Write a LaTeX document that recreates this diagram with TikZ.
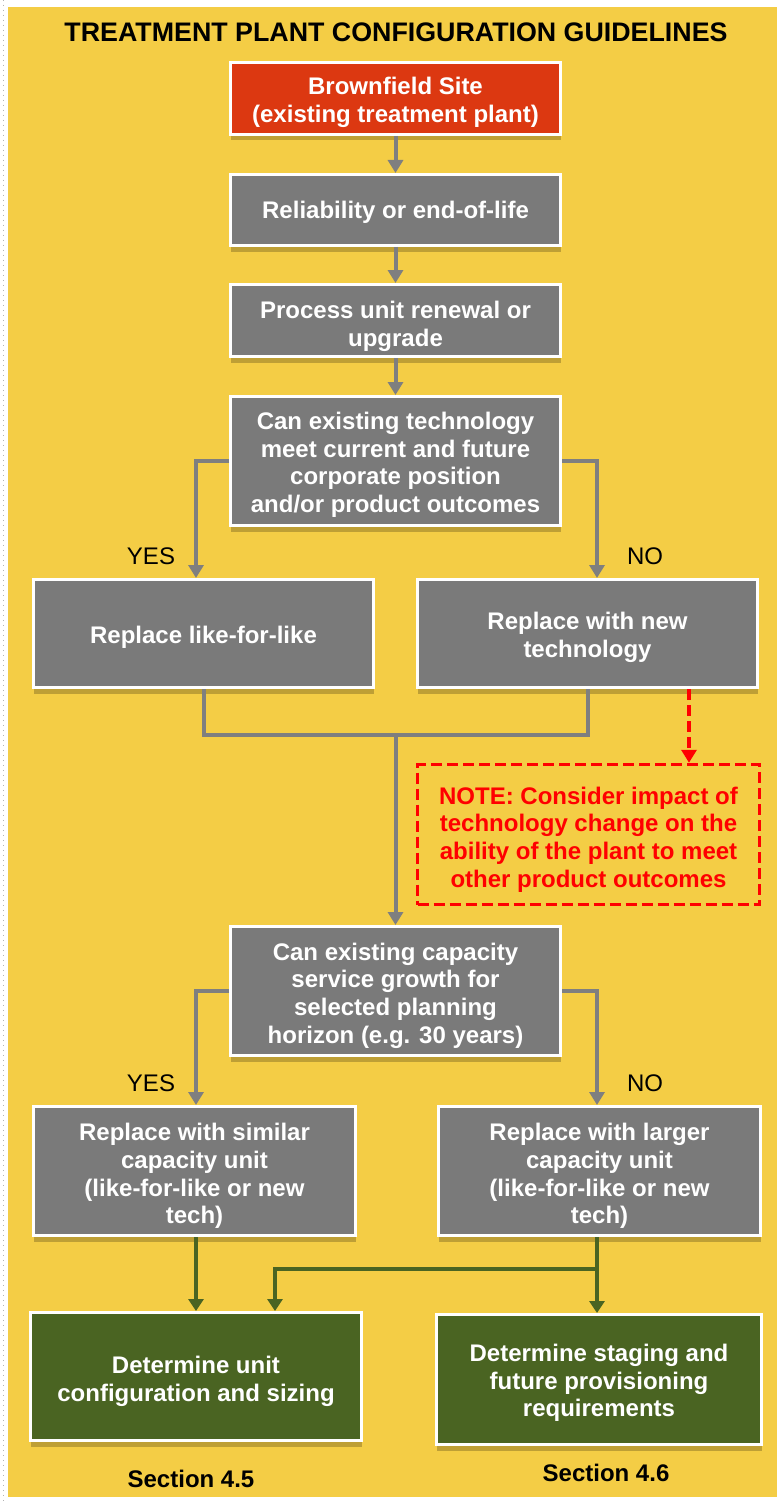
\documentclass[tikz,border=0pt]{standalone}
\usepackage{fontspec}
\setmainfont{Liberation Sans}
\usetikzlibrary{arrows.meta,shadows}

\definecolor{bgyellow}{HTML}{F4CD45}
\definecolor{boxgray}{HTML}{7A7A7A}
\definecolor{boxred}{HTML}{DC3811}
\definecolor{boxgreen}{HTML}{4A6422}
\definecolor{linegray}{HTML}{7F7F7F}
\definecolor{notered}{HTML}{FF0000}

% centred lines of box text; the optional rule height lowers the block a little
\newcommand{\boxtext}[2][12pt]{\begin{tabular}{@{}c@{}}\rule{0pt}{#1}#2\end{tabular}}

\begin{document}
\begin{tikzpicture}[x=0.5pt,y=-0.5pt,
  box/.style={draw=white, line width=1.5pt, text=white,
    inner sep=0pt, font=\fontsize{12}{13.85}\selectfont\bfseries,
    drop shadow={shadow xshift=0pt, shadow yshift=-3pt, opacity=0.22, fill=black}},
  graybox/.style={box, fill=boxgray},
  redbox/.style={box, fill=boxred},
  greenbox/.style={box, fill=boxgreen},
  notebox/.style={draw=notered, line width=1.75pt, dash pattern=on 5.5pt off 2.5pt,
    text=notered, inner sep=0pt,
    font=\fontsize{12}{13.85}\selectfont\bfseries},
  lbl/.style={font=\fontsize{12}{14}\selectfont, anchor=base, inner sep=0pt},
  seclbl/.style={font=\fontsize{12}{14}\selectfont\bfseries, anchor=base, inner sep=0pt},
  gline/.style={draw=linegray, line width=2pt},
  garrow/.style={gline, -{Triangle[width=7.5pt,length=6.5pt]}},
  grarrow/.style={draw=boxgreen, line width=1.8pt, -{Triangle[width=7.5pt,length=6pt]}},
  rarrow/.style={draw=notered, line width=1.75pt, dash pattern=on 5.5pt off 2.5pt,
    -{Triangle[width=7.5pt,length=6.5pt]}}
]
\useasboundingbox (0,0) rectangle (777,1503);

% page background and frame
\fill[white] (0,0) rectangle (777,1503);
\fill[bgyellow] (8,7) rectangle (777,1497);
\draw[black!30, line width=0.5pt, dotted] (3,0) -- (3,1503);

% title
\node[font=\fontsize{13.4}{15}\selectfont\bfseries, anchor=base, inner sep=0pt] (title)
  at (396,42) {TREATMENT PLANT CONFIGURATION GUIDELINES};

% main column
\node[redbox, minimum width=165pt, minimum height=36pt] (b1) at (395.5,98.5)
  {\boxtext[14.5pt]{Brownfield Site\\(existing treatment plant)}};
\node[graybox, minimum width=165pt, minimum height=35.5pt] (b2) at (395.5,210)
  {\boxtext[12.6pt]{Reliability or end-of-life}};
\node[graybox, minimum width=165pt, minimum height=36pt] (b3) at (395.5,320.5)
  {\boxtext[16pt]{Process unit renewal or\\upgrade}};
\node[graybox, minimum width=165pt, minimum height=64.5pt] (b4) at (395.5,461)
  {\boxtext[14.3pt]{Can existing technology\\meet current and future\\corporate position\\and/or product outcomes}};

\node[graybox, minimum width=170pt, minimum height=54pt] (l1) at (203.5,633.5)
  {\boxtext[13.8pt]{Replace like-for-like}};
\node[graybox, minimum width=170pt, minimum height=54pt] (r1) at (587.5,633.5)
  {\boxtext[13.8pt]{Replace with new\\technology}};

\node[notebox, minimum width=171pt, minimum height=70pt] (note) at (588.5,834.5)
  {\boxtext[15.3pt]{NOTE: Consider impact of\\technology change on the\\ability of the plant to meet\\other product outcomes}};

\node[graybox, minimum width=165pt, minimum height=64.5pt] (b5) at (395.5,991)
  {\boxtext[14.8pt]{Can existing capacity\\service growth for\\selected planning\\horizon (e.g. 30 years)}};

\node[graybox, minimum width=161pt, minimum height=64.5pt] (l2) at (194.5,1171)
  {\boxtext[15.5pt]{Replace with similar\\capacity unit\\(like-for-like or new\\tech)}};
\node[graybox, minimum width=161pt, minimum height=64.5pt] (r2) at (599.5,1171)
  {\boxtext[15.5pt]{Replace with larger\\capacity unit\\(like-for-like or new\\tech)}};

\node[greenbox, minimum width=165.5pt, minimum height=64pt] (g1) at (196,1376.5)
  {\boxtext[14.8pt]{Determine unit\\configuration and sizing}};
\node[greenbox, minimum width=162.5pt, minimum height=65pt] (g2) at (599,1379.5)
  {\boxtext[13.8pt]{Determine staging and\\future provisioning\\requirements}};

% branch labels
\node[lbl] (yes1) at (151,564.5) {YES};
\node[lbl] (no1) at (645,564.5) {NO};
\node[lbl] (yes2) at (151,1091.5) {YES};
\node[lbl] (no2) at (645,1091.5) {NO};

% section references
\node[seclbl] (sec1) at (191,1487) {Section 4.5};
\node[seclbl] (sec2) at (606,1481) {Section 4.6};

% connectors
\draw[garrow] (b1) -- (b2);
\draw[garrow] (b2) -- (b3);
\draw[garrow] (b3) -- (b4);
\draw[garrow] (b4.west) -| ([xshift=-3.75pt]l1.north);
\draw[garrow] (b4.east) -| ([xshift=4.75pt]r1.north);

\coordinate (merge) at (395.5,735);
\draw[gline] (l1.south) -- (l1.south |- merge) -- (r1.south |- merge) -- (r1.south);
\draw[garrow] (merge) -- (b5.north);

\draw[rarrow] ([xshift=50.75pt]r1.south) -- ([xshift=50.75pt]r1.south |- note.north);

\draw[garrow] (b5.west) -| ([xshift=0.75pt]l2.north);
\draw[garrow] (b5.east) -| ([xshift=-1.25pt]r2.north);

\draw[grarrow] (g1.north |- l2.south) -- (g1.north);
\draw[grarrow] ([xshift=-1pt]g2.north |- r2.south) -- ([xshift=-1pt]g2.north);
\coordinate (split) at (597,1269);
\draw[grarrow] (split) -| ([xshift=39.5pt]g1.north);

\end{tikzpicture}
\end{document}
